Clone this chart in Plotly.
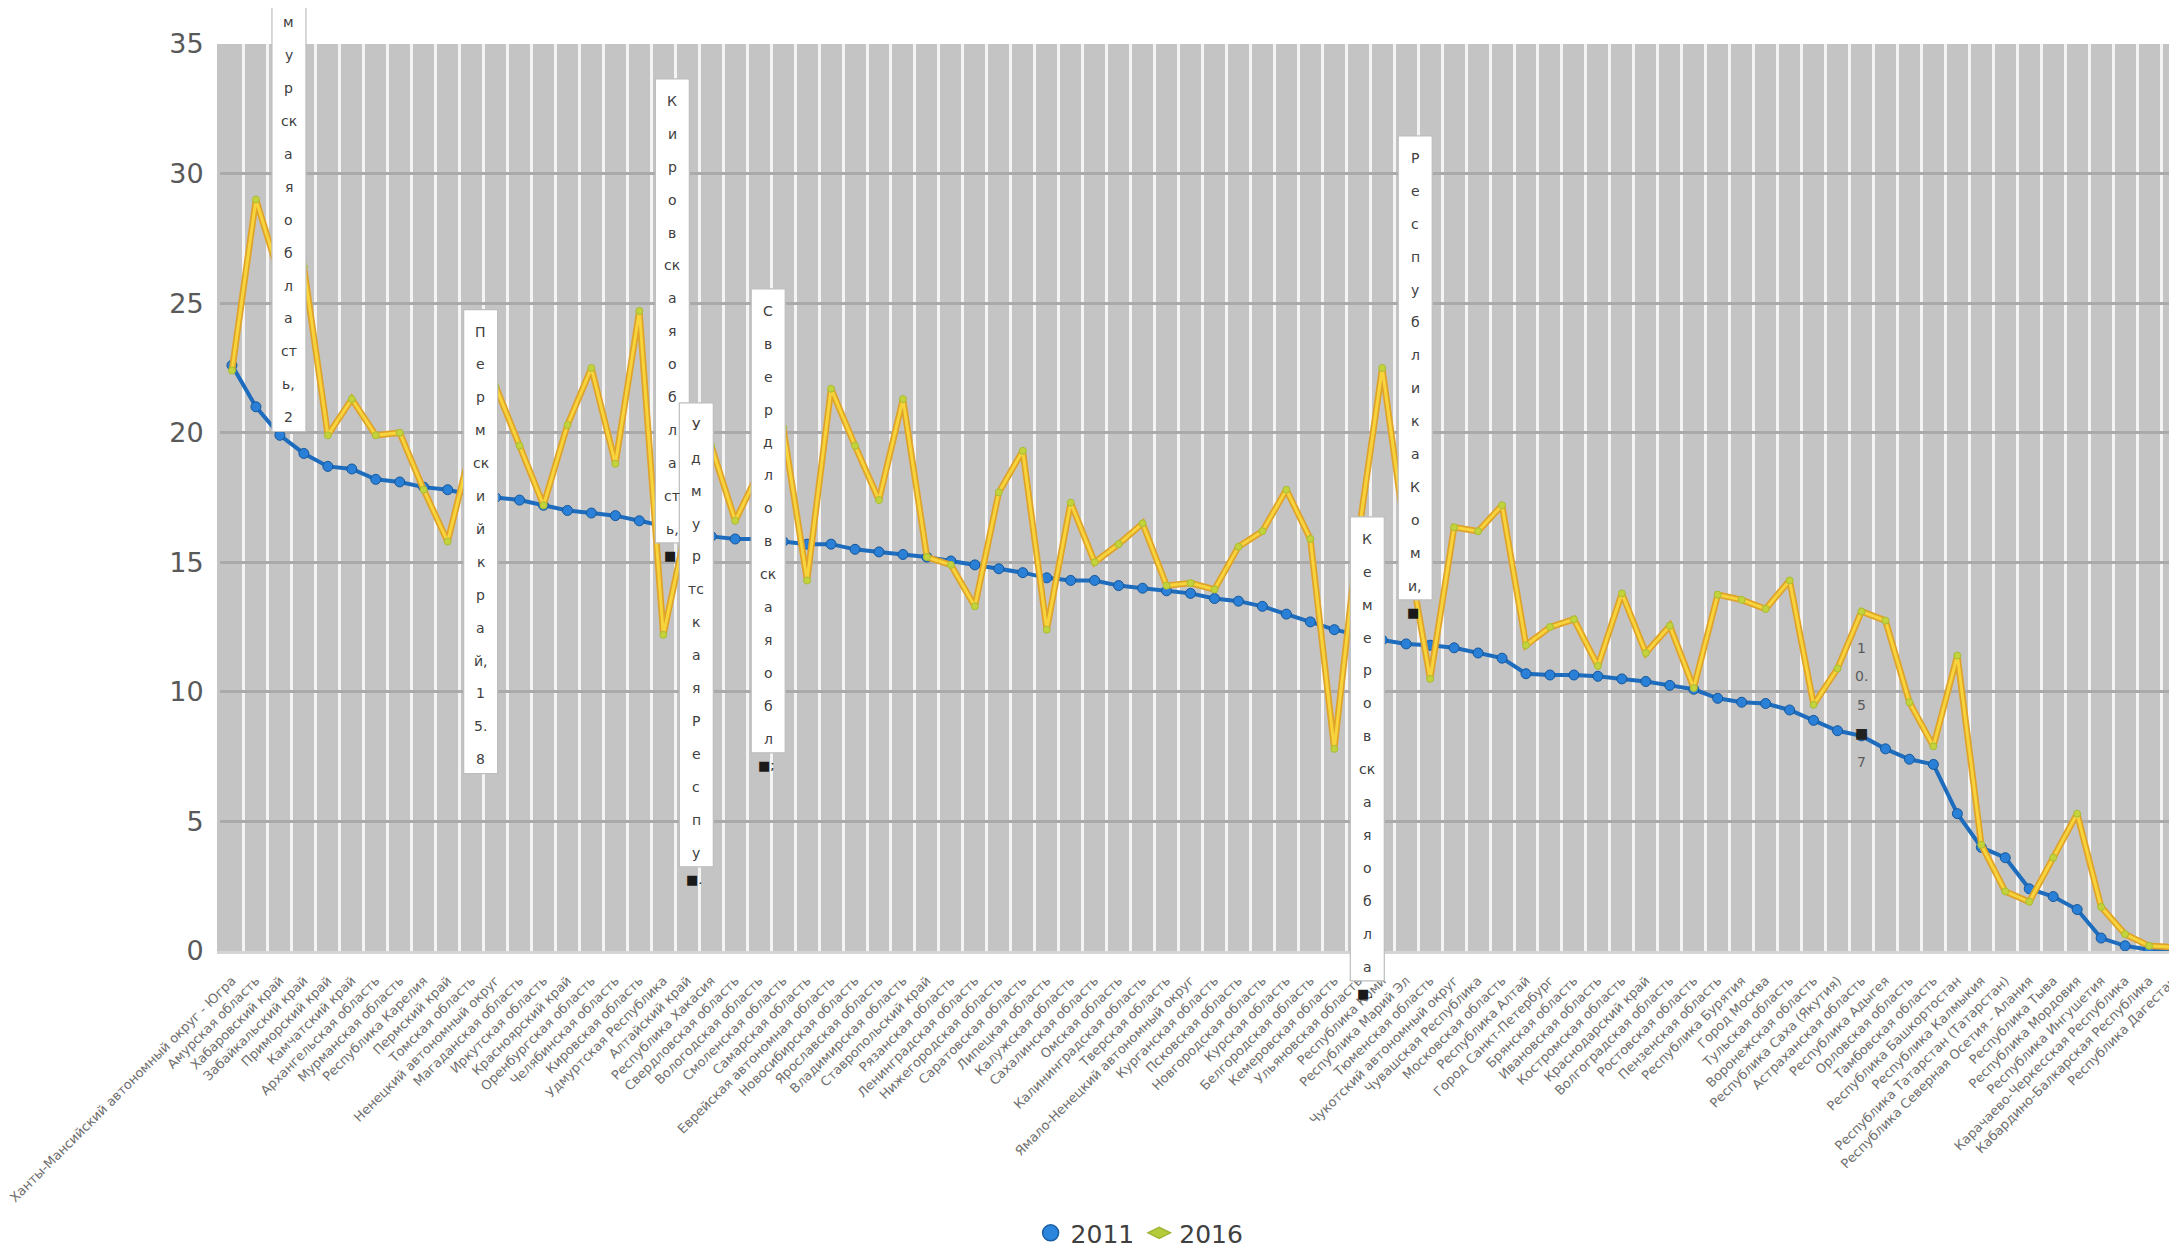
import plotly.graph_objects as go

regions = [
    "Ханты-Мансийский автономный округ - Югра", "Амурская область", "Хабаровский край",
    "Забайкальский край", "Приморский край", "Камчатский край", "Архангельская область",
    "Мурманская область", "Республика Карелия", "Пермский край", "Томская область",
    "Ненецкий автономный округ", "Магаданская область", "Иркутская область",
    "Красноярский край", "Оренбургская область", "Челябинская область", "Кировская область",
    "Удмуртская Республика", "Алтайский край", "Республика Хакасия", "Свердловская область",
    "Вологодская область", "Смоленская область", "Самарская область",
    "Еврейская автономная область", "Новосибирская область", "Ярославская область",
    "Владимирская область", "Ставропольский край", "Рязанская область",
    "Ленинградская область", "Нижегородская область", "Саратовская область",
    "Липецкая область", "Калужская область", "Сахалинская область", "Омская область",
    "Калининградская область", "Тверская область", "Ямало-Ненецкий автономный округ",
    "Курганская область", "Псковская область", "Новгородская область", "Курская область",
    "Белгородская область", "Кемеровская область", "Ульяновская область", "Республика Коми",
    "Республика Марий Эл", "Тюменская область", "Чукотский автономный округ",
    "Чувашская Республика", "Московская область", "Республика Алтай",
    "Город Санкт-Петербург", "Брянская область", "Ивановская область",
    "Костромская область", "Краснодарский край", "Волгоградская область",
    "Ростовская область", "Пензенская область", "Республика Бурятия", "Город Москва",
    "Тульская область", "Воронежская область", "Республика Саха (Якутия)",
    "Астраханская область", "Республика Адыгея", "Орловская область", "Тамбовская область",
    "Республика Башкортостан", "Республика Калмыкия", "Республика Татарстан (Татарстан)",
    "Республика Северная Осетия - Алания", "Республика Тыва", "Республика Мордовия",
    "Республика Ингушетия", "Карачаево-Черкесская Республика",
    "Кабардино-Балкарская Республика", "Республика Дагестан",
]

values_2011 = [
    22.6, 21.0, 19.9, 19.2, 18.7, 18.6, 18.2, 18.1, 17.9, 17.8,
    17.6, 17.5, 17.4, 17.2, 17.0, 16.9, 16.8, 16.6, 16.4, 16.2,
    16.0, 15.9, 15.9, 15.8, 15.7, 15.7, 15.5, 15.4, 15.3, 15.2,
    15.05, 14.9, 14.75, 14.6, 14.4, 14.3, 14.3, 14.1, 14.0, 13.9,
    13.8, 13.6, 13.5, 13.3, 13.0, 12.7, 12.4, 12.2, 12.0, 11.85,
    11.8, 11.7, 11.5, 11.3, 10.7, 10.65, 10.65, 10.6, 10.5, 10.4,
    10.25, 10.1, 9.75, 9.6, 9.55, 9.3, 8.9, 8.5, 8.3, 7.8,
    7.4, 7.2, 5.3, 4.0, 3.6, 2.4, 2.1, 1.6, 0.5, 0.2,
    0.05, 0.05,
]

values_2016 = [
    22.4, 29.0, 26.0, 26.4, 19.9, 21.3, 19.9, 20.0, 17.8, 15.8,
    19.5, 21.8, 19.5, 17.2, 20.3, 22.5, 18.8, 24.7, 12.2, 16.5,
    19.5, 16.6, 18.5, 20.2, 14.3, 21.7, 19.5, 17.4, 21.3, 15.2,
    14.9, 13.3, 17.7, 19.3, 12.4, 17.3, 15.0, 15.7, 16.5, 14.1,
    14.2, 13.95, 15.6, 16.2, 17.8, 15.9, 7.8, 16.0, 22.5, 15.8,
    10.5, 16.35, 16.2, 17.2, 11.8, 12.5, 12.8, 11.0, 13.8, 11.5,
    12.55, 10.15, 13.75, 13.55, 13.2, 14.3, 9.5, 10.9, 13.1, 12.75,
    9.6, 7.9, 11.4, 4.1, 2.3, 1.9, 3.6, 5.3, 1.7, 0.65,
    0.2, 0.15,
]

# data labels (Excel-style narrow boxes), each line of the wrapped label;
# the first line of the first label lies above the page and is not visible
label_points = [1, 9, 17, 18, 21, 46, 48]
label_first_line = [1, 0, 0, 0, 0, 0, 0]
label_lines = [
    ["м", "у", "р", "ск", "а", "я", "о", "б", "л", "а", "ст", "ь,", "2"],
    ["П", "е", "р", "м", "ск", "и", "й", "к", "р", "а", "й,", "1", "5.", "8"],
    ["К", "и", "р", "о", "в", "ск", "а", "я", "о", "б", "л", "а", "ст", "ь,"],
    ["У", "д", "м", "у", "р", "тс", "к", "а", "я", "Р", "е", "с", "п", "у"],
    ["С", "в", "е", "р", "д", "л", "о", "в", "ск", "а", "я", "о", "б", "л"],
    ["К", "е", "м", "е", "р", "о", "в", "ск", "а", "я", "о", "б", "л", "а"],
    ["Р", "е", "с", "п", "у", "б", "л", "и", "к", "а", "К", "о", "м", "и,"],
]
label_overflow = ["", "", "■", "■.", "■;", "■.", "■"]
loose_label_point = 66
loose_label_lines = ["1", "0.", "5", "■", "7"]

N = len(regions)
W, H = 2177, 1254
ML, MR, MT, MB = 212, 0, 36, 311
PW, PH = W - ML - MR, H - MT - MB
YMAX = 35

fig = go.Figure()

fig.add_trace(go.Scatter(
    x=regions, y=values_2011, mode="lines+markers", showlegend=False,
    line=dict(color="#1d6cbd", width=4),
    marker=dict(symbol="circle", size=10, color="#2a80d6", line=dict(color="#15579a", width=1)),
))
fig.add_trace(go.Scatter(
    x=regions, y=values_2016, mode="lines", showlegend=False, hoverinfo="skip",
    line=dict(color="#dfa32a", width=6.5),
))
fig.add_trace(go.Scatter(
    x=regions, y=values_2016, mode="lines+markers", showlegend=False,
    line=dict(color="#f7d43c", width=3),
    marker=dict(symbol="circle", size=7, color="#c4d23c", line=dict(color="#a8bd35", width=1)),
))
# legend entries (markers only, as in the original legend)
fig.add_trace(go.Scatter(
    x=[None], y=[None], mode="markers", name="2011",
    marker=dict(symbol="circle", size=16, color="#2a86dc", line=dict(color="#1a5ea3", width=1.5)),
))
fig.add_trace(go.Scatter(
    x=[None], y=[None], mode="markers", name="2016",
    marker=dict(symbol="diamond-wide", size=16, color="#b5cc3a", line=dict(color="#9fb534", width=1.5)),
))


def paper_x(idx, px=0.0):
    return (idx + 0.5) / N + px / PW


def paper_y(v, px=0.0):
    return v / YMAX + px / PH


shapes = []
annotations = []
txt_font = dict(family="DejaVu Sans", size=14, color="#404040")
for idx, first, lines, over in zip(label_points, label_first_line, label_lines, label_overflow):
    v = values_2016[idx]
    shapes.append(dict(
        type="rect", xref="paper", yref="paper", layer="above",
        x0=paper_x(idx, 16), x1=paper_x(idx, 50),
        y0=paper_y(v, -232), y1=paper_y(v, 232),
        fillcolor="white", line=dict(color="#bdbdbd", width=1.2),
    ))
    for k, ch in enumerate(lines, start=first):
        annotations.append(dict(
            xref="paper", yref="paper", x=paper_x(idx, 33), y=paper_y(v, 210 - 32.9 * k),
            text=ch, showarrow=False, xanchor="center", yanchor="middle", font=txt_font,
        ))
    if over:
        annotations.append(dict(
            xref="paper", yref="paper", x=paper_x(idx, 31), y=paper_y(v, -245),
            text=over, showarrow=False, xanchor="center", yanchor="middle",
            font=dict(family="DejaVu Sans", size=13, color="#1a1a1a"),
        ))

v = values_2016[loose_label_point]
for k, ch in enumerate(loose_label_lines):
    annotations.append(dict(
        xref="paper", yref="paper", x=paper_x(loose_label_point, 48),
        y=paper_y(v, 57 - 28.5 * k), text=ch, showarrow=False,
        xanchor="center", yanchor="middle",
        font=dict(family="DejaVu Sans", size=14, color="#5a5a5a" if ch != "■" else "#222222"),
    ))

fig.update_layout(
    width=W, height=H,
    margin=dict(l=ML, r=MR, t=MT, b=MB, autoexpand=False),
    paper_bgcolor="white",
    plot_bgcolor="#c4c4c4",
    shapes=shapes,
    annotations=annotations,
    showlegend=True,
    legend=dict(
        orientation="h", x=0.468, xanchor="center", y=-0.311, yanchor="middle",
        font=dict(family="DejaVu Sans", size=25, color="#404040"),
        bgcolor="rgba(0,0,0,0)", itemsizing="trace",
    ),
    xaxis=dict(
        type="category", tickson="boundaries", showgrid=True, gridcolor="#f4f4f4", gridwidth=3,
        tickangle=-45, ticks="", automargin=False, ticklabelstandoff=14,
        tickfont=dict(family="DejaVu Sans", size=13, color="#707070"),
        showline=True, linecolor="#d4d4d4", linewidth=3, zeroline=False,
        range=[-0.5, N - 0.5],
    ),
    yaxis=dict(
        range=[0, YMAX], dtick=5, tick0=0, showgrid=True, gridcolor="#aaaaaa", gridwidth=2.5,
        zeroline=False, showline=True, linecolor="#c4c4c4", linewidth=3, ticks="",
        automargin=False, ticklabelstandoff=8,
        tickfont=dict(family="DejaVu Sans", size=27, color="#595959"),
    ),
)

fig.write_html("out.html")
